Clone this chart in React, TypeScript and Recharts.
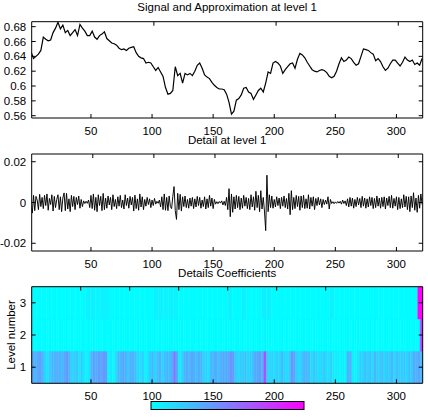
import React from 'react';
import { LineChart, ComposedChart, Line, XAxis, YAxis, ReferenceArea } from 'recharts';

const FONT = '"Liberation Sans", Arial, Helvetica, sans-serif';
const FS = 11.5;

// shared sample axis
const X_DOMAIN: [number, number] = [1.5, 321.5];
const X_TICKS = [50, 100, 150, 200, 250, 300];

// level-1 approximation, one value every 2 samples starting at sample 1
const approxSignal = [
  0.646, 0.637, 0.640, 0.643, 0.648, 0.666, 0.663, 0.661, 0.662, 0.672,
  0.678, 0.686, 0.677, 0.682, 0.672, 0.675, 0.668, 0.672, 0.676, 0.668,
  0.683, 0.678, 0.674, 0.668, 0.668, 0.674, 0.666, 0.663, 0.668, 0.670,
  0.673, 0.664, 0.661, 0.658, 0.657, 0.655, 0.651, 0.649, 0.650, 0.648,
  0.651, 0.652, 0.653, 0.645, 0.640, 0.638, 0.637, 0.631, 0.632, 0.631,
  0.626, 0.621, 0.625, 0.619, 0.613, 0.598, 0.589, 0.590, 0.594, 0.626,
  0.614, 0.617, 0.604, 0.617, 0.615, 0.617, 0.614, 0.620, 0.628, 0.631,
  0.624, 0.615, 0.612, 0.610, 0.605, 0.601, 0.598, 0.596, 0.596, 0.595,
  0.589, 0.578, 0.562, 0.566, 0.581, 0.583, 0.588, 0.597, 0.598, 0.592,
  0.590, 0.582, 0.588, 0.594, 0.597, 0.592, 0.604, 0.619, 0.617, 0.631,
  0.633, 0.631, 0.627, 0.617, 0.622, 0.626, 0.630, 0.631, 0.624, 0.636,
  0.644, 0.642, 0.638, 0.632, 0.627, 0.622, 0.620, 0.619, 0.621, 0.622,
  0.621, 0.618, 0.613, 0.611, 0.613, 0.620, 0.630, 0.638, 0.633, 0.635,
  0.639, 0.637, 0.632, 0.628, 0.630, 0.640, 0.650, 0.649, 0.648, 0.645,
  0.643, 0.634, 0.637, 0.633, 0.626, 0.621, 0.624, 0.630, 0.635, 0.635,
  0.631, 0.627, 0.632, 0.639, 0.635, 0.633, 0.635, 0.629, 0.631, 0.628,
  0.637,
];
const APPROX_TICKS = [0.56, 0.58, 0.6, 0.62, 0.64, 0.66, 0.68];
const APPROX_DOMAIN: [number, number] = [0.5569, 0.6867];

// level-1 detail, one value per sample 1..321
const detailSignal = [
  -0.002, -0.0052, 0.0035, -0.004, 0.003, 0.0012, -0.0035, 0.004, -0.002, 0.0025,
  -0.003, 0.0035, -0.0015, 0.0042, -0.0038, 0.002, -0.001, 0.0038, -0.0042, 0.003,
  -0.0025, 0.0015, 0.0038, -0.0035, 0.0028, -0.0045, 0.0022, 0.0047, -0.004, 0.0045,
  -0.0032, 0.0018, -0.0045, 0.0035, -0.002, 0.003, -0.0035, 0.0025, -0.001, 0.0032,
  -0.0028, 0.0015, -0.002, 0.0008, -0.0005, 0.0006, -0.0004, 0.0012, -0.0025, 0.0035,
  -0.003, 0.0042, -0.0038, 0.0025, -0.0045, 0.0038, -0.0015, 0.003, -0.004, 0.0045,
  -0.0035, 0.0022, -0.0028, 0.0032, -0.0012, 0.0025, -0.0035, 0.0038, -0.002, 0.0015,
  -0.003, 0.0028, -0.0018, 0.0035, -0.0025, 0.0012, -0.0032, 0.0038, -0.0015, 0.0022,
  -0.0028, 0.003, -0.0012, 0.0025, -0.0042, 0.0036, -0.003, 0.0018, -0.0038, 0.0042,
  -0.0022, 0.0028, -0.0035, 0.0015, -0.0018, 0.0025, -0.001, 0.0018, -0.0025, 0.0012,
  -0.0015, 0.002, -0.0008, 0.0006, -0.0004, 0.0012, -0.0022, 0.0028, -0.0035, 0.0042,
  -0.0038, 0.0025, -0.004, 0.0032, -0.002, -0.003, 0.003, 0.0078, -0.004, -0.0083,
  0.0045, -0.0035, 0.004, -0.0042, 0.0028, -0.002, 0.0032, -0.0025, 0.0015, -0.0028,
  0.0022, -0.0018, 0.0025, -0.003, 0.0018, -0.0022, 0.003, -0.0015, 0.0025, -0.0028,
  0.0012, -0.002, 0.0028, -0.0032, 0.0018, -0.0025, 0.0035, -0.0018, 0.0022, -0.003,
  0.0015, -0.0008, 0.0004, -0.0006, 0.0005, -0.0003, 0.0008, -0.0012, 0.0006, -0.0015,
  0.0025, -0.0035, 0.0068, -0.007, 0.0042, -0.0048, 0.0028, -0.0032, 0.0035, -0.0025,
  0.003, -0.0035, 0.0022, -0.0028, 0.0035, -0.0018, 0.0025, -0.003, 0.002, -0.0035,
  0.0038, -0.0022, 0.0028, -0.0038, 0.0055, -0.0025, 0.0035, -0.0045, 0.0058, -0.0032,
  0.0025, -0.0042, -0.0138, 0.0134, -0.0045, 0.0038, -0.0025, 0.0032, -0.0028, 0.0015,
  -0.0022, 0.0028, -0.0015, 0.0022, -0.003, 0.0025, -0.0018, 0.0032, -0.0025, 0.002,
  -0.0032, 0.0045, -0.006, 0.0058, -0.0035, 0.0025, -0.003, 0.0035, -0.002, 0.003,
  -0.0038, 0.0032, -0.0025, 0.0035, -0.003, 0.0018, -0.0028, 0.0038, -0.0032, 0.0025,
  -0.0018, 0.0028, -0.0035, 0.002, -0.0015, 0.0025, -0.0012, 0.0018, -0.0025, 0.0015,
  -0.001, 0.0012, -0.0008, 0.0028, -0.0032, 0.0015, -0.0005, 0.0004, -0.0006, 0.0003,
  -0.0004, 0.0005, -0.0003, 0.0006, -0.0008, 0.0012, -0.0005, 0.0008, -0.0015, 0.0018,
  -0.0022, 0.0025, -0.0018, 0.0022, -0.0028, 0.0015, -0.002, 0.0025, -0.0012, 0.002,
  -0.0025, 0.003, -0.0018, 0.0022, -0.0028, 0.0018, -0.0022, 0.0028, -0.0015, 0.0025,
  -0.003, 0.002, -0.0025, 0.0032, -0.0018, 0.0022, -0.0028, 0.0025, -0.002, 0.0028,
  -0.0032, 0.0022, -0.0015, 0.003, -0.0025, 0.0035, -0.0028, 0.002, -0.0018, 0.0028,
  -0.0035, 0.0025, -0.003, 0.0018, -0.0025, 0.0038, -0.0022, 0.003, -0.0035, 0.0028,
  -0.0045, 0.0032, -0.0025, 0.0048, -0.0038, 0.0022, -0.0048, 0.0035, -0.0028, 0.0042,
  -0.001,
];
const DETAIL_TICKS = [-0.02, 0, 0.02];
const DETAIL_DOMAIN: [number, number] = [-0.0238, 0.0238];

// coefficient magnitudes, as a fraction of the colour scale
// level 1: 160 cells, 2 samples wide
const level1Coefs = [
  0.32, 0.3, 0.33, 0.38, 0.3, 0.15, 0.12, 0.18, 0.3, 0.28,
  0.33, 0.3, 0.25, 0.35, 0.4, 0.3, 0.15, 0.2, 0.22, 0.12,
  0.18, 0.08, 0.05, 0.1, 0.3, 0.35, 0.32, 0.38, 0.35, 0.4,
  0.38, 0.05, 0.08, 0.04, 0.1, 0.3, 0.28, 0.35, 0.3, 0.2,
  0.32, 0.3, 0.25, 0.15, 0.12, 0.18, 0.05, 0.08, 0.2, 0.28,
  0.15, 0.25, 0.3, 0.18, 0.22, 0.3, 0.25, 0.3, 0.55, 0.35,
  0.08, 0.12, 0.3, 0.32, 0.28, 0.35, 0.3, 0.25, 0.32, 0.3,
  0.15, 0.18, 0.12, 0.3, 0.28, 0.32, 0.25, 0.3, 0.35, 0.3,
  0.35, 0.42, 0.4, 0.2, 0.15, 0.22, 0.18, 0.25, 0.15, 0.2,
  0.22, 0.35, 0.32, 0.38, 0.3, 0.7, 0.2, 0.15, 0.18, 0.12,
  0.2, 0.15, 0.25, 0.18, 0.12, 0.2, 0.4, 0.38, 0.18, 0.15,
  0.2, 0.28, 0.3, 0.25, 0.15, 0.2, 0.18, 0.12, 0.15, 0.2,
  0.15, 0.12, 0.18, 0.1, 0.05, 0.08, 0.04, 0.06, 0.05, 0.3,
  0.32, 0.06, 0.05, 0.08, 0.2, 0.15, 0.25, 0.18, 0.22, 0.15,
  0.28, 0.2, 0.18, 0.25, 0.15, 0.22, 0.2, 0.28, 0.15, 0.25,
  0.2, 0.18, 0.22, 0.15, 0.25, 0.2, 0.32, 0.3, 0.35, 0.28,
];
// level 2: 160 cells, 2 samples wide
const level2Coefs = [
  0.01, 0.01, 0.01, 0.01, 0.01, 0.01, 0.01, 0.01, 0.01, 0.01,
  0.01, 0.01, 0.01, 0.01, 0.01, 0.01, 0.01, 0.01, 0.01, 0.01,
  0.01, 0.01, 0.01, 0.01, 0.02, 0.02, 0.02, 0.01, 0.01, 0.01,
  0.01, 0.01, 0.01, 0.01, 0.01, 0.01, 0.01, 0.01, 0.01, 0.01,
  0.01, 0.01, 0.01, 0.01, 0.01, 0.01, 0.01, 0.01, 0.01, 0.01,
  0.01, 0.01, 0.01, 0.01, 0.02, 0.02, 0.02, 0.02, 0.02, 0.01,
  0.01, 0.01, 0.01, 0.01, 0.01, 0.01, 0.01, 0.01, 0.01, 0.01,
  0.01, 0.01, 0.01, 0.01, 0.01, 0.01, 0.01, 0.01, 0.01, 0.01,
  0.01, 0.01, 0.01, 0.01, 0.01, 0.01, 0.01, 0.01, 0.01, 0.01,
  0.01, 0.01, 0.01, 0.01, 0.02, 0.03, 0.02, 0.01, 0.01, 0.01,
  0.01, 0.01, 0.01, 0.01, 0.01, 0.01, 0.01, 0.01, 0.01, 0.01,
  0.01, 0.01, 0.01, 0.01, 0.01, 0.01, 0.01, 0.01, 0.01, 0.01,
  0.01, 0.01, 0.01, 0.01, 0.01, 0.01, 0.01, 0.01, 0.01, 0.01,
  0.01, 0.01, 0.01, 0.01, 0.01, 0.01, 0.01, 0.01, 0.01, 0.01,
  0.01, 0.01, 0.01, 0.01, 0.01, 0.01, 0.01, 0.01, 0.01, 0.01,
  0.01, 0.01, 0.01, 0.01, 0.01, 0.01, 0.01, 0.01, 0.01, 0.78,
];
// level 3: 80 cells, 4 samples wide
const level3Coefs = [
  0.01, 0.01, 0.01, 0.01, 0.01, 0.01, 0.01, 0.01, 0.01, 0.01,
  0.01, 0.05, 0.05, 0.04, 0.05, 0.05, 0.01, 0.01, 0.01, 0.01,
  0.01, 0.01, 0.01, 0.01, 0.01, 0.05, 0.05, 0.04, 0.05, 0.05,
  0.01, 0.01, 0.01, 0.01, 0.01, 0.01, 0.01, 0.01, 0.01, 0.01,
  0.05, 0.01, 0.01, 0.05, 0.01, 0.01, 0.01, 0.06, 0.06, 0.01,
  0.01, 0.01, 0.01, 0.01, 0.01, 0.01, 0.01, 0.01, 0.01, 0.01,
  0.01, 0.05, 0.01, 0.01, 0.01, 0.01, 0.01, 0.01, 0.01, 0.01,
  0.01, 0.01, 0.01, 0.01, 0.01, 0.01, 0.01, 0.01, 0.01, 1.0,
];
const LEVEL_TICKS = [1, 2, 3];
const LEVEL_DOMAIN: [number, number] = [0.5, 3.5];

// cyan -> magenta colour map
const cool = (v: number) =>
  `rgb(${Math.round(255 * v)},${Math.round(255 * (1 - v))},255)`;

const approxRows = approxSignal.map((v, i) => ({ x: 1 + 2 * i, v }));
const detailRows = detailSignal.map((v, i) => ({ x: 1 + i, v }));

type Cell = { x1: number; x2: number; y1: number; y2: number; v: number };
const heatCells: Cell[] = [
  ...level1Coefs.map((v, i) => ({ x1: X_DOMAIN[0] + 2 * i, x2: X_DOMAIN[0] + 2 * i + 2, y1: 0.5, y2: 1.5, v })),
  ...level2Coefs.map((v, i) => ({ x1: X_DOMAIN[0] + 2 * i, x2: X_DOMAIN[0] + 2 * i + 2, y1: 1.5, y2: 2.5, v })),
  ...level3Coefs.map((v, i) => ({ x1: X_DOMAIN[0] + 4 * i, x2: X_DOMAIN[0] + 4 * i + 4, y1: 2.5, y2: 3.5, v })),
];

const TICK_LEN = 4;
const textStyle = { fontFamily: FONT, fontSize: FS, fill: '#000' } as const;

// inward tick marks with labels outside the frame
const BottomTick = (p: any) => (
  <g>
    <line x1={p.x} x2={p.x} y1={p.y} y2={p.y - TICK_LEN} stroke="#000" />
    <text x={p.x} y={p.y + 16.5} textAnchor="middle" {...textStyle}>{p.payload.value}</text>
  </g>
);
const TopTick = (p: any) => (
  <line x1={p.x} x2={p.x} y1={p.y} y2={p.y + TICK_LEN} stroke="#000" />
);
const LeftTick = (p: any) => (
  <g>
    <line x1={p.x} x2={p.x + TICK_LEN} y1={p.y} y2={p.y} stroke="#000" />
    <text x={p.x - 5.5} y={p.y + 4} textAnchor="end" {...textStyle}>{p.payload.value}</text>
  </g>
);
const RightTick = (p: any) => (
  <line x1={p.x} x2={p.x - TICK_LEN} y1={p.y} y2={p.y} stroke="#000" />
);

const W = 428;
const LEFT = 31.7;
const RIGHT = 5.3;

function frameAxes(yDomain: [number, number], yTicks: number[], bottomHeight: number) {
  return [
    <XAxis key="xb" xAxisId="b" dataKey="x" type="number" orientation="bottom" domain={X_DOMAIN}
      allowDataOverflow ticks={X_TICKS} height={bottomHeight} tickSize={0} tickMargin={0}
      tickLine={false} axisLine={{ stroke: '#000' }} tick={BottomTick} interval={0} />,
    <XAxis key="xt" xAxisId="t" type="number" orientation="top" domain={X_DOMAIN}
      allowDataOverflow ticks={X_TICKS} height={1} tickSize={0} tickMargin={0}
      tickLine={false} axisLine={{ stroke: '#000' }} tick={TopTick} interval={0} />,
    <YAxis key="yl" yAxisId="l" type="number" orientation="left" domain={yDomain}
      allowDataOverflow ticks={yTicks} width={LEFT} tickSize={0} tickMargin={0}
      tickLine={false} axisLine={{ stroke: '#000' }} tick={LeftTick} interval={0} />,
    <YAxis key="yr" yAxisId="r" type="number" orientation="right" domain={yDomain}
      allowDataOverflow ticks={yTicks} width={1} tickSize={0} tickMargin={0}
      tickLine={false} axisLine={{ stroke: '#000' }} tick={RightTick} interval={0} />,
  ];
}

const Title = ({ y, children }: { y: number; children: React.ReactNode }) => (
  <text x={LEFT + (W - LEFT - RIGHT) / 2} y={y} textAnchor="middle" {...textStyle}>{children}</text>
);

export default function App() {
  return (
    <div style={{ position: 'absolute', left: 0, top: 0, width: W, height: 420, background: '#fff' }}>
      <div style={{ position: 'absolute', left: 0, top: 0 }}>
        <LineChart width={W} height={140} data={approxRows}
          margin={{ top: 20.7, right: RIGHT - 1, bottom: 0, left: 0 }}>
          {frameAxes(APPROX_DOMAIN, APPROX_TICKS, 22)}
          <Line xAxisId="b" yAxisId="l" dataKey="v" stroke="#000" strokeWidth={1.2}
            dot={false} isAnimationActive={false} />
        </LineChart>
      </div>
      <div style={{ position: 'absolute', left: 0, top: 140 }}>
        <LineChart width={W} height={135} data={detailRows}
          margin={{ top: 13, right: RIGHT - 1, bottom: 0, left: 0 }}>
          {frameAxes(DETAIL_DOMAIN, DETAIL_TICKS, 24)}
          <Line xAxisId="b" yAxisId="l" dataKey="v" stroke="#000" strokeWidth={0.95}
            dot={false} isAnimationActive={false} />
        </LineChart>
      </div>
      <div style={{ position: 'absolute', left: 0, top: 270 }}>
        <ComposedChart width={W} height={140} data={heatCells}
          margin={{ top: 15.7, right: RIGHT - 1, bottom: 0, left: 0 }}>
          {heatCells.map((c, i) => (
            <ReferenceArea key={i} xAxisId="b" yAxisId="l" x1={c.x1} x2={c.x2} y1={c.y1} y2={c.y2}
              fill={cool(c.v)} fillOpacity={1} stroke={cool(c.v)} strokeWidth={0.5} ifOverflow="hidden" />
          ))}
          {frameAxes(LEVEL_DOMAIN, LEVEL_TICKS, 26.7)}
        </ComposedChart>
      </div>
      <svg width={W} height={420} style={{ position: 'absolute', left: 0, top: 0, pointerEvents: 'none' }}>
        <defs>
          <linearGradient id="coolbar" x1="0" x2="1" y1="0" y2="0">
            <stop offset="0" stopColor={cool(0)} />
            <stop offset="1" stopColor={cool(1)} />
          </linearGradient>
        </defs>
        <Title y={10.7}>Signal and Approximation at level 1</Title>
        <Title y={144}>Detail at level 1</Title>
        <Title y={276.5}>Details Coefficients</Title>
        <text transform="translate(14.5,335) rotate(-90)" textAnchor="middle" {...textStyle}>Level number</text>
        <rect x={151} y={401.5} width={153} height={8} fill="url(#coolbar)" stroke="#000" strokeWidth={1} />
      </svg>
    </div>
  );
}
